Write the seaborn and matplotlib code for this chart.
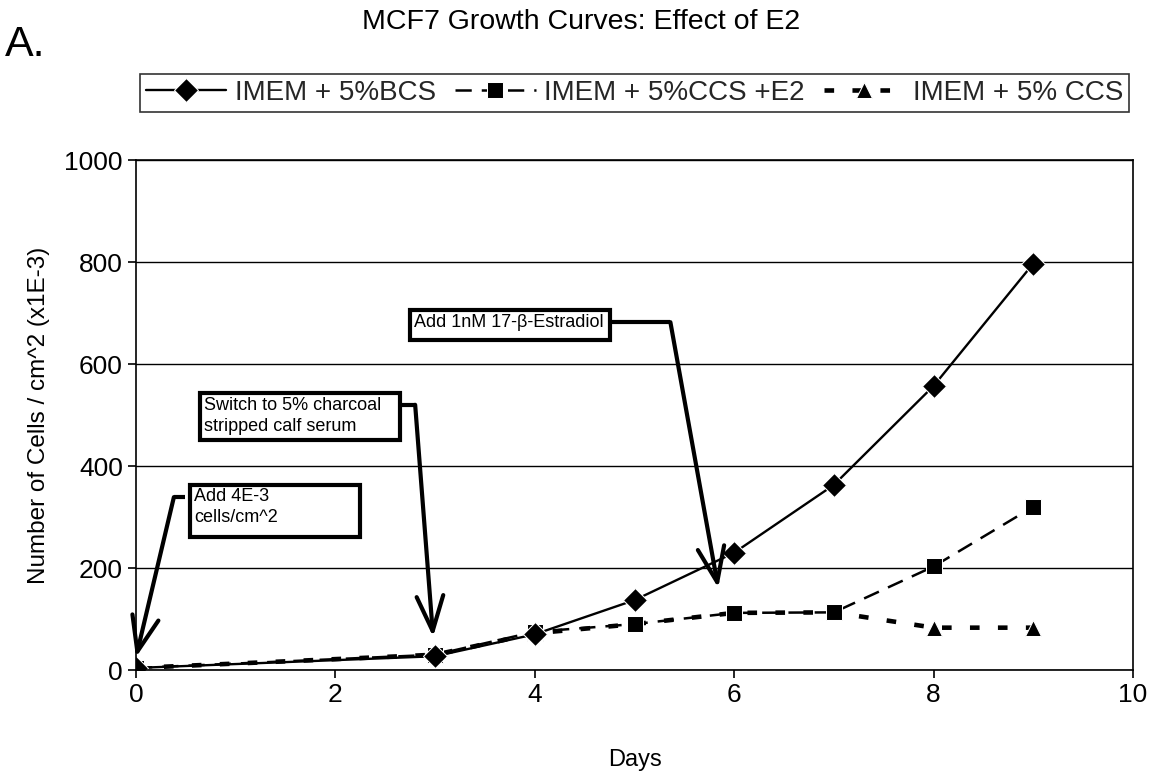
import matplotlib
matplotlib.use("Agg")
import matplotlib.pyplot as plt
from matplotlib.patches import Rectangle
import seaborn as sns
import pandas as pd

days = [0, 3, 4, 5, 6, 7, 8, 9]
bcs = [4, 27, 70, 137, 230, 363, 557, 797]
ccs_e2 = [4, 30, 75, 90, 112, 113, 203, 320]
ccs = [4, 30, 72, 90, 112, 113, 83, 83]
series_names = ["IMEM + 5%BCS", "IMEM + 5%CCS +E2", "IMEM + 5% CCS"]

note_texts = ["Add 4E-3\ncells/cm^2", "Switch to 5% charcoal\nstripped calf serum", "Add 1nM 17-\u03b2-Estradiol"]
# box extents in data units: (x0, x1, y_bottom, y_top)
note_boxes = [(0.542, 2.247, 261, 363), (0.642, 2.648, 451, 543), (2.748, 4.754, 647, 706)]
arrow_paths = [
    [(0.49, 339), (0.38, 339), (0.0, 25)],
    [(2.65, 520), (2.80, 520), (2.98, 65)],
    [(4.77, 682), (5.36, 682), (5.84, 161)],
]

sns.set_theme(style="white")
plt.rcParams["font.family"] = ["Liberation Sans", "DejaVu Sans"]

fig = plt.figure(figsize=(11.59, 7.82), dpi=100)
ax = fig.add_axes([136/1159, 1-670/782, (1133-136)/1159, (670-160)/782])

df = pd.DataFrame({"Days": days, "bcs": bcs, "e2": ccs_e2, "ccs": ccs})

sns.lineplot(data=df, x="Days", y="ccs", ax=ax, color="black", marker="^",
             markersize=11, linewidth=3.3, label=series_names[2])
ax.get_lines()[-1].set_dashes([2.1, 4.0])
sns.lineplot(data=df, x="Days", y="e2", ax=ax, color="black", marker="s",
             markersize=11, linewidth=1.8, label=series_names[1])
ax.get_lines()[-1].set_dashes([6.5, 4.0])
sns.lineplot(data=df, x="Days", y="bcs", ax=ax, color="black", marker="D",
             markersize=12, linewidth=1.7, label=series_names[0])

ax.set_xlim(0, 10)
ax.set_ylim(0, 1000)
ax.set_xticks(range(0, 11, 2))
ax.set_yticks(range(0, 1001, 200))
ax.yaxis.grid(True, color="black", linewidth=1)
ax.xaxis.grid(False)
for s in ax.spines.values():
    s.set_color("black")
    s.set_linewidth(1.2)
ax.tick_params(axis="both", which="both", direction="out", length=6, width=1.2,
               color="black", labelsize=19, labelcolor="black", bottom=True, left=True)
ax.set_xlabel("Days", fontsize=17, color="black", labelpad=30)
ax.set_ylabel("Number of Cells / cm^2 (x1E-3)", fontsize=17.5, color="black", labelpad=10)

# annotation boxes
for txt, (x0, x1, yb, yt) in zip(note_texts, note_boxes):
    ax.add_patch(Rectangle((x0, yb), x1 - x0, yt - yb, facecolor="white",
                           edgecolor="black", linewidth=3, zorder=5))
    ax.text(x0 + 0.04, yt - 7, txt, ha="left", va="top", fontsize=13, color="black",
            linespacing=1.3, zorder=6)
for path in arrow_paths:
    xs = [p[0] for p in path[:-1]]
    ys = [p[1] for p in path[:-1]]
    ax.plot(xs, ys, color="black", lw=3, solid_capstyle="butt", zorder=5)
    ax.annotate("", xy=path[-1], xytext=path[-2],
                arrowprops=dict(arrowstyle="->,head_length=2.1,head_width=0.8",
                                lw=3, color="black", shrinkA=0, shrinkB=0), zorder=5)

# legend
handles, labels = ax.get_legend_handles_labels()
order = [labels.index(n) for n in series_names]
ax.legend([handles[i] for i in order], [labels[i] for i in order],
          loc="center", bbox_to_anchor=(634.5/1159, 1-93/782), bbox_transform=fig.transFigure,
          ncol=3, frameon=True, fancybox=False, edgecolor="black", fontsize=20,
          handlelength=2.9, columnspacing=0.7, handletextpad=0.3, borderpad=0.2)
ax.get_legend().get_frame().set_linewidth(1.2)

fig.text(362/1159, 1-22/782, "MCF7 Growth Curves: Effect of E2", ha="left", va="center",
         fontsize=20.5, color="black")
fig.text(5/1159, 1-45/782, "A.", ha="left", va="center", fontsize=31, color="black")

fig.savefig("out.png", dpi=100, facecolor="white")
